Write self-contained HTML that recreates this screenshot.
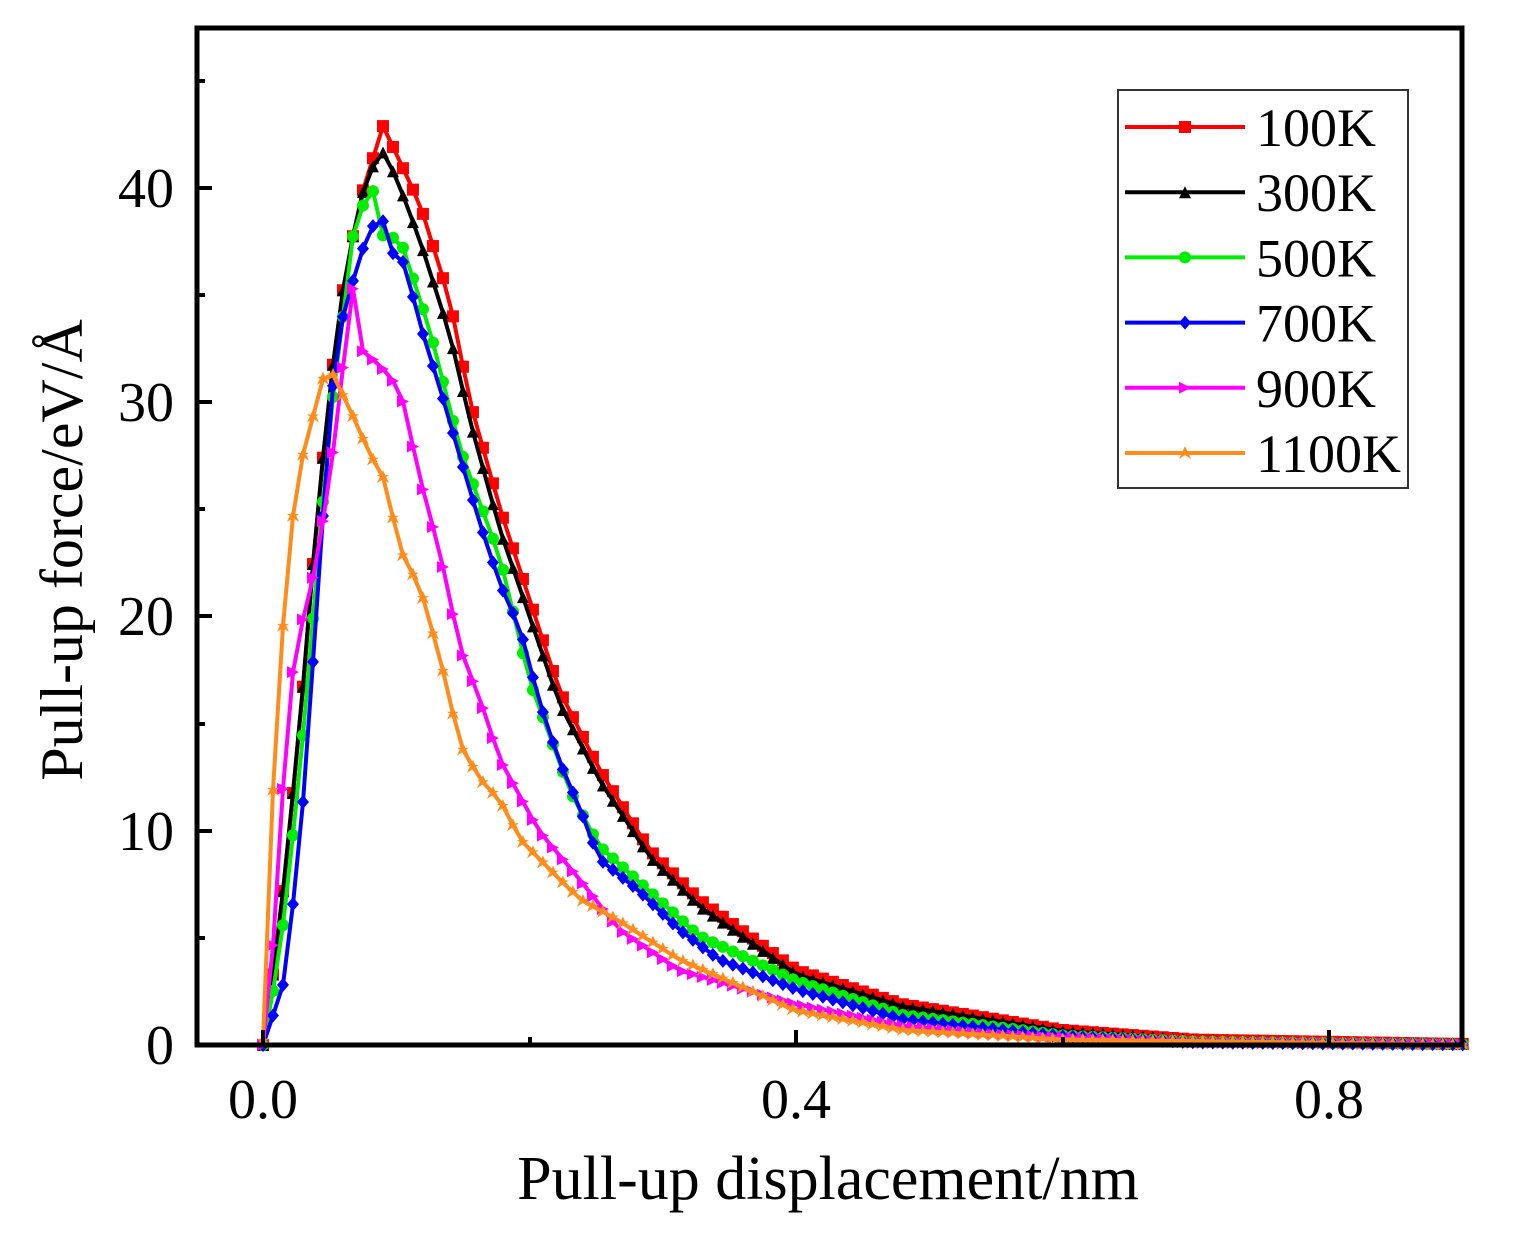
<!DOCTYPE html>
<html><head><meta charset="utf-8"><style>
html,body{margin:0;padding:0;background:#fff;}
svg{display:block;font-family:"Liberation Serif",serif;}
</style></head><body>
<svg id="s" width="1526" height="1233" viewBox="0 0 1526 1233" xmlns="http://www.w3.org/2000/svg">
<rect width="1526" height="1233" fill="#fff"/>
<g id="plot"></g>
<rect x="197" y="28" width="1265" height="1017" fill="none" stroke="#000" stroke-width="5"/>
<g stroke="#000" stroke-width="4">
<line x1="197" y1="188" x2="212" y2="188"/><line x1="197" y1="402" x2="212" y2="402"/>
<line x1="197" y1="616" x2="212" y2="616"/><line x1="197" y1="831" x2="212" y2="831"/>
<line x1="197" y1="81" x2="205" y2="81"/><line x1="197" y1="295" x2="205" y2="295"/>
<line x1="197" y1="509" x2="205" y2="509"/><line x1="197" y1="724" x2="205" y2="724"/>
<line x1="197" y1="938" x2="205" y2="938"/>
<line x1="263" y1="1045" x2="263" y2="1030"/><line x1="796" y1="1045" x2="796" y2="1030"/>
<line x1="1329" y1="1045" x2="1329" y2="1030"/>
<line x1="530" y1="1045" x2="530" y2="1037"/><line x1="1063" y1="1045" x2="1063" y2="1037"/>
</g>
<g font-size="56" fill="#000" text-anchor="end">
<text x="174" y="207">40</text><text x="174" y="421">30</text><text x="174" y="635">20</text>
<text x="174" y="850">10</text><text x="174" y="1064">0</text>
</g>
<g font-size="56" fill="#000" text-anchor="middle">
<text x="263" y="1118">0.0</text><text x="796" y="1118">0.4</text><text x="1329" y="1118">0.8</text>
</g>
<text x="828" y="1199" font-size="62" text-anchor="middle">Pull-up displacement/nm</text>
<text transform="translate(82,550) rotate(-90)" font-size="60" text-anchor="middle">Pull-up force/eV/Å</text>
<rect x="1118" y="90" width="290" height="398" fill="#fff" stroke="#333" stroke-width="2"/>
<g id="leg"></g>
</svg>
<script>
const X=x=>263+x*1333, Y=v=>1045-v*21.42;
const rise=[[0,0],[0.005,2],[0.016,7.7],[0.028,15.2],[0.039,23.6],[0.05,30.6],[0.061,35.7],[0.073,39.5]];
const S=[
{c:"#ff0000",m:"sq",n:"100K",p:[...rise,[0.09,42.9],[0.1,41.6],[0.118,39.2],[0.14,34.8],[0.155,30.1],[0.178,25],[0.2,20.8],[0.222,16.6],[0.252,12.9],[0.29,9.1],[0.327,6.8],[0.4,3.5],[0.48,1.9],[0.6,0.7],[0.7,0.25],[0.9,0.05]]},
{c:"#000000",m:"tri",n:"300K",p:[...rise,[0.088,41.9],[0.1,40.5],[0.118,37.5],[0.14,33.2],[0.155,29.2],[0.178,24],[0.2,20],[0.222,16],[0.252,12.4],[0.29,8.8],[0.327,6.5],[0.4,3.3],[0.48,1.8],[0.6,0.65],[0.7,0.25],[0.9,0.05]]},
{c:"#00ee00",m:"ci",n:"500K",p:[[0,0],[0.005,1.5],[0.016,6],[0.028,13],[0.039,21],[0.05,29],[0.069,38.5],[0.082,40],[0.09,37.8],[0.103,37.6],[0.125,33.4],[0.148,27.8],[0.178,22.7],[0.2,17],[0.23,11.9],[0.252,9.3],[0.327,5.1],[0.4,3],[0.48,1.4],[0.6,0.45],[0.7,0.15],[0.9,0.03]]},
{c:"#0000ff",m:"di",n:"700K",p:[[0,0],[0.005,0.9],[0.016,3],[0.028,9.6],[0.035,15.7],[0.043,22.7],[0.05,29.7],[0.06,34],[0.073,36.9],[0.088,39],[0.095,37.1],[0.106,36.5],[0.118,33.6],[0.133,30.6],[0.148,27.4],[0.163,24.3],[0.178,21.5],[0.193,19.4],[0.207,16.1],[0.222,13.3],[0.238,11],[0.252,8.7],[0.282,7.2],[0.312,5.4],[0.342,4],[0.4,2.6],[0.48,1.2],[0.6,0.4],[0.7,0.12],[0.9,0.03]]},
{c:"#ff00ff",m:"rt",n:"900K",p:[[0,0],[0.005,2],[0.013,10.5],[0.024,18.5],[0.035,21],[0.043,23.6],[0.054,28.3],[0.067,35.5],[0.076,32],[0.084,32],[0.103,30.6],[0.118,26.4],[0.133,22.9],[0.148,18.5],[0.163,16.1],[0.178,13.3],[0.207,10],[0.238,7.7],[0.267,5.4],[0.312,3.5],[0.4,1.9],[0.48,0.9],[0.55,0.5],[0.7,0.1],[0.9,0.02]]},
{c:"#ff8c1a",m:"st",n:"1100K",p:[[0,0.2],[0.005,10],[0.013,16.1],[0.016,21.3],[0.02,23.6],[0.028,27.1],[0.035,28.7],[0.044,31],[0.05,31.6],[0.065,29.7],[0.08,27.6],[0.091,26.4],[0.103,23.1],[0.118,21.3],[0.133,18],[0.148,14],[0.163,12.4],[0.178,11.4],[0.193,9.6],[0.215,8.2],[0.238,6.8],[0.267,5.8],[0.312,4],[0.4,1.6],[0.48,0.7],[0.6,0.25],[0.9,0.02]]}
];
function interp(p,x){for(let i=0;i<p.length-1;i++){if(x<=p[i+1][0]){const t=(x-p[i][0])/(p[i+1][0]-p[i][0]);return p[i][1]+t*(p[i+1][1]-p[i][1]);}}return p[p.length-1][1];}
function mk(m,x,y,c,r){r=r||6;
 if(m=="sq")return `<rect x="${x-r}" y="${y-r}" width="${2*r}" height="${2*r}" fill="${c}"/>`;
 if(m=="tri")return `<polygon points="${x},${y-r} ${x-r},${y+r} ${x+r},${y+r}" fill="${c}"/>`;
 if(m=="ci")return `<circle cx="${x}" cy="${y}" r="${r}" fill="${c}"/>`;
 if(m=="di")return `<polygon points="${x},${y-r-1} ${x+r},${y} ${x},${y+r+1} ${x-r},${y}" fill="${c}"/>`;
 if(m=="rt")return `<polygon points="${x-r},${y-r} ${x+r},${y} ${x-r},${y+r}" fill="${c}"/>`;
 return `<polygon points="${x},${y-r-1} ${x+r},${y+r} ${x-r},${y-r/3} ${x+r},${y-r/3} ${x-r},${y+r}" fill="${c}"/>`;}
let out="";
S.forEach((s,k)=>{let pts=[],mks="";
 for(let x=0;x<=0.9;x+=0.0075){const v=interp(s.p,x);pts.push(X(x).toFixed(1)+","+Y(v).toFixed(1));mks+=mk(s.m,X(x),Y(v),s.c);}
 out+=`<polyline points="${pts.join(" ")}" fill="none" stroke="${s.c}" stroke-width="4"/>`+mks;});
document.getElementById("plot").innerHTML=out;
let lg="";
S.forEach((s,i)=>{const y=127+i*65.2;
 lg+=`<line x1="1125" y1="${y}" x2="1245" y2="${y}" stroke="${s.c}" stroke-width="4"/>`+mk(s.m,1185,y,s.c,6)+`<text x="1256" y="${y+19}" font-size="54">${s.n}</text>`;});
document.getElementById("leg").innerHTML=lg;
</script>
</body></html>
